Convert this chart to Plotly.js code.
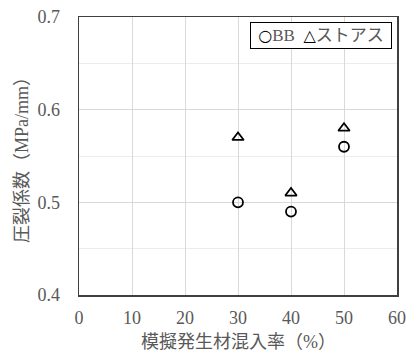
<!DOCTYPE html>
<html><head><meta charset="utf-8">
<script src="https://cdn.plot.ly/plotly-3.0.1.min.js"></script>
<style>body{margin:0;background:#fff}#c{width:409px;height:354px}</style>
</head><body><div id="c"></div>
<script>
const mixRate = [30, 40, 50];
const bbValues = [0.50, 0.49, 0.56];
const stoasValues = [0.57, 0.51, 0.58];
const seriesNames = ['BB', 'ストアス'];
const legendGlyphs = ['○', '△'];
const xTickVals = [0, 10, 20, 30, 40, 50, 60];
const yTickVals = [0.4, 0.5, 0.6, 0.7];
const xTitle = '模擬発生材混入率（%）';
const yTitle = '圧裂係数（MPa/mm）';

const fontFam = '"Liberation Serif", "Noto Sans CJK JP", serif';
const grey = '#595959';

const traces = [
  {x: mixRate, y: bbValues, name: seriesNames[0], type: 'scatter', mode: 'markers',
   marker: {symbol: 'circle-open', size: 10, color: '#000', line: {width: 1.8, color: '#000'}}},
  {x: mixRate, y: stoasValues, name: seriesNames[1], type: 'scatter', mode: 'markers',
   marker: {symbol: 'triangle-up-open', size: 10, color: '#000', line: {width: 1.8, color: '#000'}}}
];

const legendText = ' ' + seriesNames.map((n, i) =>
  '<span style="color:#000;font-weight:bold;font-family:\'DejaVu Sans\';font-size:16px">' + legendGlyphs[i] + '</span>' + n).join('  ') + ' ';

const layout = {
  width: 409, height: 354,
  margin: {l: 79, r: 12, t: 17, b: 59},
  paper_bgcolor: '#fff', plot_bgcolor: '#fff',
  font: {family: fontFam, color: grey, size: 18},
  showlegend: false,
  annotations: [
    {xref: 'paper', yref: 'paper', x: 0.983, y: 0.982, xanchor: 'right', yanchor: 'top',
     text: legendText, showarrow: false, align: 'left',
     font: {family: fontFam, size: 17, color: grey},
     bordercolor: '#000', borderwidth: 1, borderpad: 3, bgcolor: '#fff'},
    {xref: 'paper', yref: 'paper', x: 0.5, y: -0.169, xanchor: 'center', yanchor: 'middle',
     text: xTitle, showarrow: false, font: {family: fontFam, size: 18, color: grey}},
    {xref: 'paper', yref: 'paper', x: -0.179, y: 0.5, xanchor: 'center', yanchor: 'middle',
     text: yTitle, textangle: -90, showarrow: false, font: {family: fontFam, size: 18, color: grey}}
  ],
  xaxis: {range: [0, 60], tickvals: xTickVals, ticktext: xTickVals.map(String),
    showgrid: true, gridcolor: '#d9d9d9', gridwidth: 1, zeroline: false,
    showline: true, mirror: true, linecolor: '#404040', linewidth: 1.5, ticks: '',
    tickfont: {family: fontFam, size: 18, color: grey}, ticklabelstandoff: 6},
  yaxis: {range: [0.4, 0.7], tickvals: yTickVals, ticktext: yTickVals.map(v => v.toFixed(1)),
    showgrid: true, gridcolor: '#d9d9d9', gridwidth: 1, zeroline: false,
    minor: {dtick: 0.05, showgrid: true, gridcolor: '#ececec', gridwidth: 1},
    showline: true, mirror: true, linecolor: '#404040', linewidth: 1.5, ticks: '',
    tickfont: {family: fontFam, size: 18, color: grey}, ticklabelstandoff: 14}
};
Plotly.newPlot('c', traces, layout, {staticPlot: true});
</script></body></html>
